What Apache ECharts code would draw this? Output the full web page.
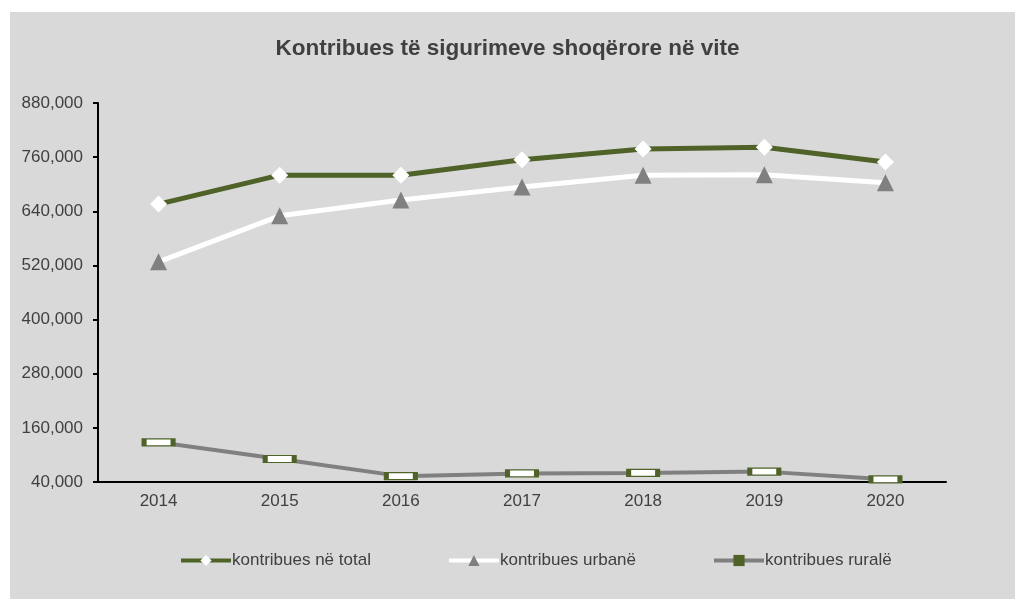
<!DOCTYPE html>
<html>
<head>
<meta charset="utf-8">
<script src="https://cdn.jsdelivr.net/npm/echarts@6/dist/echarts.min.js"></script>
<style>
    body { margin: 0; background: #fff; }
    #bg { position: absolute; left: 10px; top: 12px; width: 1005px; height: 587px; background: #D9D9D9; }
    #main { position: absolute; left: 0; top: 0; width: 1015px; height: 599px; }
</style>
</head>
<body>
<div id="bg"></div>
<div id="main"></div>
<script>
    //kategorite dhe vlerat
    var years = ['2014', '2015', '2016', '2017', '2018', '2019', '2020'];
    var totalVals = [656000, 720000, 720000, 754000, 778000, 782000, 749000];
    var urbanVals = [528000, 630000, 665000, 694000, 720000, 721000, 703000];
    var ruralVals = [128000, 91000, 53000, 59000, 60000, 63000, 46000];
    var seriesNames = ['kontribues në total', 'kontribues urbanë', 'kontribues ruralë'];

    var green = '#4F6228', grey = '#808080', txt = '#404040';
    var chart = echarts.init(document.getElementById('main'));

    chart.setOption({
        backgroundColor: 'transparent',
        animation: false,
        title: {
            text: 'Kontribues të sigurimeve shoqërore në vite',
            left: 'center', top: 32,
            textStyle: { fontFamily: 'Liberation Sans', fontWeight: 'bold', fontSize: 22.5, color: txt }
        },
        grid: { left: 98, right: 69, top: 103, bottom: 117 },
        legend: {
            bottom: 25, left: 174,
            itemWidth: 50, itemHeight: 14, itemGap: 76,
            textStyle: { fontFamily: 'Liberation Sans', fontSize: 17, color: txt, padding: [0, 0, 0, -4] },
            data: [
                { name: seriesNames[0], lineStyle: { width: 4 } },
                { name: seriesNames[1], lineStyle: { width: 4 } },
                { name: seriesNames[2], lineStyle: { width: 4 }, itemStyle: { color: green, borderWidth: 0 } }
            ]
        },
        xAxis: {
            type: 'category',
            data: years,
            axisLine: { lineStyle: { color: '#000', width: 2 } },
            axisTick: { length: 5, lineStyle: { color: '#000', width: 2 } },
            axisLabel: { fontFamily: 'Liberation Sans', fontSize: 17, color: txt, margin: 11 }
        },
        yAxis: {
            type: 'value',
            min: 40000, max: 880000, interval: 120000,
            axisLine: { show: true, lineStyle: { color: '#000', width: 2 } },
            axisTick: { show: true, length: 5, lineStyle: { color: '#000', width: 2 } },
            splitLine: { show: false },
            axisLabel: {
                fontFamily: 'Liberation Sans', fontSize: 17, color: txt, margin: 15,
                formatter: function (v) { return v.toLocaleString('en-US'); }
            }
        },
        series: [
            {
                name: seriesNames[0], type: 'line', data: totalVals, z: 4,
                symbol: 'diamond', symbolSize: 17,
                lineStyle: { color: green, width: 5 },
                itemStyle: { color: '#fff', borderWidth: 0 }
            },
            {
                name: seriesNames[1], type: 'line', data: urbanVals, z: 3,
                symbol: 'triangle', symbolSize: 17,
                lineStyle: { color: '#fff', width: 5 },
                itemStyle: { color: grey, borderWidth: 0 }
            },
            {
                name: seriesNames[2], type: 'line', data: ruralVals, z: 2,
                symbol: 'rect', symbolSize: [29, 7],
                lineStyle: { color: grey, width: 4 },
                itemStyle: { color: '#fff', borderColor: green, borderWidth: 2.5 }
            }
        ]
    });
</script>
</body>
</html>
